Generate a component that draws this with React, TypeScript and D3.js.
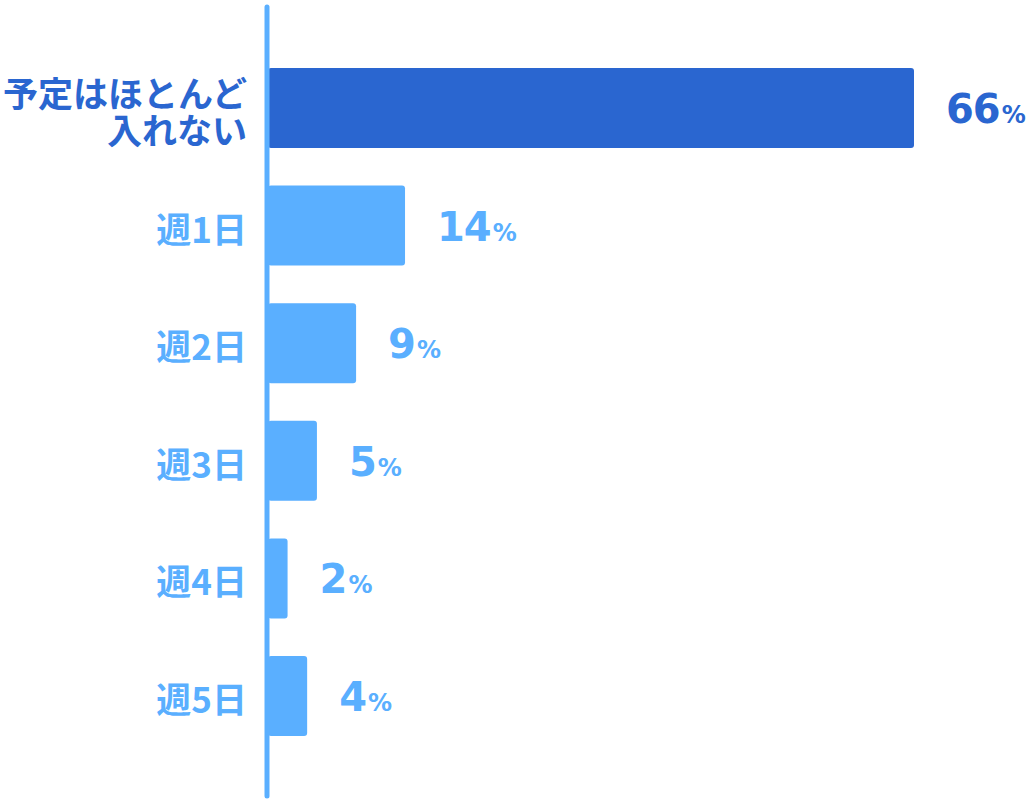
import React from "react";
import * as d3 from "d3";

const categories = ["予定はほとんど\n入れない", "週1日", "週2日", "週3日", "週4日", "週5日"];
const values = [66, 14, 9, 5, 2, 4];
const highlight = [true, false, false, false, false, false];

const DARK = "#2a66d0";
const LIGHT = "#5aafff";

export default function App() {
  const width = 1036;
  const height = 800;
  const x0 = 268;
  const x = d3.scaleLinear().domain([0, 66]).range([x0, 914]);
  const y = d3
    .scaleBand<string>()
    .domain(categories)
    .range([49.2, 754.8])
    .paddingInner(0.32)
    .paddingOuter(0.16);

  return (
    <svg
      width={width}
      height={height}
      style={{ position: "absolute", left: 0, top: 0, background: "#fff" }}
    >
      {categories.map((c, i) => {
        const y0 = y(c)!;
        const bw = y.bandwidth();
        const cy = y0 + bw / 2;
        const color = highlight[i] ? DARK : LIGHT;
        const lines = c.split("\n");
        const xe = x(values[i]);
        return (
          <g key={c}>
            <rect x={x0} y={y0} width={xe - x0} height={bw} rx={3} fill={color} />
            {lines.map((l, j) => (
              <text
                key={j}
                x={247}
                y={cy + (j - (lines.length - 1) / 2) * 37 + 1.5}
                dominantBaseline="central"
                textAnchor="end"
                fill={color}
                fontFamily="'Noto Sans CJK JP', sans-serif"
                fontWeight="bold"
                fontSize={35}
              >
                {l}
              </text>
            ))}
            <text
              x={xe + 32}
              y={cy + 15}
              fill={color}
              fontFamily="'DejaVu Sans', sans-serif"
              fontWeight="bold"
            >
              <tspan fontSize={40} letterSpacing={-1}>{values[i]}</tspan>
              <tspan fontSize={24} dx={2}>%</tspan>
            </text>
          </g>
        );
      })}
      <line x1={267} x2={267} y1={7} y2={796} stroke={LIGHT} strokeWidth={5} strokeLinecap="round" />
    </svg>
  );
}
